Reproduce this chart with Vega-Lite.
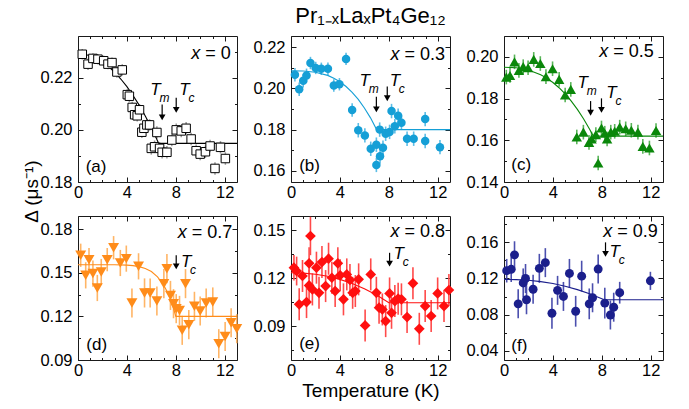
{
  "$schema": "https://vega.github.io/schema/vega-lite/v6.json",
  "background": "white",
  "padding": {"left": 21, "top": 4, "right": 5, "bottom": 5},
  "columns": 3,
  "spacing": {"row": 34, "column": 54},
  "bounds": "flush",
  "datasets": {
    "pts": [
      {"p":"a","t":0.35,"d":0.2290,"e":0.0020},{"p":"a","t":0.82,"d":0.2252,"e":0.0022},{"p":"a","t":1.22,"d":0.2274,"e":0.0020},{"p":"a","t":1.63,"d":0.2271,"e":0.0020},{"p":"a","t":2.10,"d":0.2265,"e":0.0020},{"p":"a","t":2.45,"d":0.2252,"e":0.0020},{"p":"a","t":2.78,"d":0.2258,"e":0.0020},{"p":"a","t":3.18,"d":0.2222,"e":0.0022},{"p":"a","t":3.62,"d":0.2230,"e":0.0022},{"p":"a","t":4.03,"d":0.2135,"e":0.0022},{"p":"a","t":4.20,"d":0.2129,"e":0.0022},{"p":"a","t":4.43,"d":0.2086,"e":0.0022},{"p":"a","t":4.63,"d":0.2058,"e":0.0022},{"p":"a","t":4.84,"d":0.2054,"e":0.0022},{"p":"a","t":5.03,"d":0.2077,"e":0.0022},{"p":"a","t":5.22,"d":0.1991,"e":0.0022},{"p":"a","t":5.39,"d":0.2006,"e":0.0022},{"p":"a","t":5.63,"d":0.2019,"e":0.0022},{"p":"a","t":5.85,"d":0.2019,"e":0.0022},{"p":"a","t":5.99,"d":0.1929,"e":0.0024},{"p":"a","t":6.26,"d":0.1935,"e":0.0024},{"p":"a","t":6.45,"d":0.1990,"e":0.0024},{"p":"a","t":6.67,"d":0.1929,"e":0.0024},{"p":"a","t":6.88,"d":0.1914,"e":0.0024},{"p":"a","t":7.27,"d":0.1914,"e":0.0024},{"p":"a","t":7.67,"d":0.1961,"e":0.0024},{"p":"a","t":8.03,"d":0.2000,"e":0.0024},{"p":"a","t":8.44,"d":0.1996,"e":0.0024},{"p":"a","t":8.84,"d":0.2006,"e":0.0024},{"p":"a","t":9.25,"d":0.1965,"e":0.0024},{"p":"a","t":9.66,"d":0.1920,"e":0.0024},{"p":"a","t":9.99,"d":0.1907,"e":0.0024},{"p":"a","t":10.42,"d":0.1916,"e":0.0024},{"p":"a","t":10.80,"d":0.1938,"e":0.0024},{"p":"a","t":11.20,"d":0.1852,"e":0.0024},{"p":"a","t":11.65,"d":0.1933,"e":0.0024},{"p":"a","t":12.05,"d":0.1890,"e":0.0024},

      {"p":"b","t":0.32,"d":0.2066,"e":0.0033},{"p":"b","t":0.67,"d":0.1996,"e":0.0033},{"p":"b","t":1.00,"d":0.2037,"e":0.0033},{"p":"b","t":1.27,"d":0.2063,"e":0.0033},{"p":"b","t":1.59,"d":0.2123,"e":0.0030},{"p":"b","t":2.02,"d":0.2099,"e":0.0030},{"p":"b","t":2.48,"d":0.2095,"e":0.0030},{"p":"b","t":3.02,"d":0.2095,"e":0.0030},{"p":"b","t":3.50,"d":0.2014,"e":0.0030},{"p":"b","t":3.96,"d":0.2020,"e":0.0030},{"p":"b","t":4.50,"d":0.2143,"e":0.0030},{"p":"b","t":5.00,"d":0.1895,"e":0.0033},{"p":"b","t":5.50,"d":0.1797,"e":0.0035},{"p":"b","t":6.04,"d":0.1772,"e":0.0035},{"p":"b","t":6.52,"d":0.1707,"e":0.0035},{"p":"b","t":6.98,"d":0.1727,"e":0.0035},{"p":"b","t":6.98,"d":0.1629,"e":0.0035},{"p":"b","t":7.25,"d":0.1800,"e":0.0035},{"p":"b","t":7.28,"d":0.1671,"e":0.0035},{"p":"b","t":7.52,"d":0.1712,"e":0.0035},{"p":"b","t":7.74,"d":0.1780,"e":0.0035},{"p":"b","t":8.06,"d":0.1789,"e":0.0035},{"p":"b","t":8.22,"d":0.1890,"e":0.0035},{"p":"b","t":8.49,"d":0.1816,"e":0.0035},{"p":"b","t":8.76,"d":0.1867,"e":0.0035},{"p":"b","t":9.03,"d":0.1833,"e":0.0035},{"p":"b","t":9.49,"d":0.1756,"e":0.0035},{"p":"b","t":10.03,"d":0.1756,"e":0.0035},{"p":"b","t":10.97,"d":0.1851,"e":0.0035},{"p":"b","t":10.97,"d":0.1745,"e":0.0035},{"p":"b","t":12.18,"d":0.1715,"e":0.0035},

      {"p":"c","t":0.19,"d":0.1903,"e":0.0035},{"p":"c","t":0.49,"d":0.1911,"e":0.0035},{"p":"c","t":0.86,"d":0.1976,"e":0.0035},{"p":"c","t":1.22,"d":0.1935,"e":0.0035},{"p":"c","t":1.57,"d":0.1953,"e":0.0035},{"p":"c","t":1.97,"d":0.1948,"e":0.0035},{"p":"c","t":2.43,"d":0.1988,"e":0.0035},{"p":"c","t":2.97,"d":0.1968,"e":0.0035},{"p":"c","t":3.43,"d":0.1905,"e":0.0035},{"p":"c","t":3.97,"d":0.1943,"e":0.0035},{"p":"c","t":4.51,"d":0.1892,"e":0.0035},{"p":"c","t":5.00,"d":0.1817,"e":0.0035},{"p":"c","t":5.46,"d":0.1844,"e":0.0035},{"p":"c","t":5.95,"d":0.1616,"e":0.0035},{"p":"c","t":6.49,"d":0.1639,"e":0.0035},{"p":"c","t":6.95,"d":0.1590,"e":0.0035},{"p":"c","t":7.16,"d":0.1606,"e":0.0035},{"p":"c","t":7.51,"d":0.1627,"e":0.0035},{"p":"c","t":7.70,"d":0.1491,"e":0.0035},{"p":"c","t":7.97,"d":0.1659,"e":0.0035},{"p":"c","t":8.24,"d":0.1634,"e":0.0035},{"p":"c","t":8.43,"d":0.1606,"e":0.0035},{"p":"c","t":8.73,"d":0.1639,"e":0.0035},{"p":"c","t":9.05,"d":0.1643,"e":0.0035},{"p":"c","t":9.46,"d":0.1663,"e":0.0035},{"p":"c","t":9.95,"d":0.1655,"e":0.0035},{"p":"c","t":10.41,"d":0.1648,"e":0.0035},{"p":"c","t":10.95,"d":0.1639,"e":0.0035},{"p":"c","t":11.35,"d":0.1571,"e":0.0035},{"p":"c","t":11.89,"d":0.1563,"e":0.0035},{"p":"c","t":12.43,"d":0.1647,"e":0.0035},

      {"p":"d","t":0.22,"d":0.1620,"e":0.008},{"p":"d","t":0.63,"d":0.1482,"e":0.009},{"p":"d","t":0.90,"d":0.1590,"e":0.008},{"p":"d","t":1.22,"d":0.1494,"e":0.009},{"p":"d","t":1.58,"d":0.1395,"e":0.009},{"p":"d","t":1.90,"d":0.1505,"e":0.009},{"p":"d","t":2.39,"d":0.1590,"e":0.008},{"p":"d","t":2.91,"d":0.1672,"e":0.008},{"p":"d","t":3.46,"d":0.1567,"e":0.009},{"p":"d","t":3.95,"d":0.1597,"e":0.009},{"p":"d","t":4.41,"d":0.1292,"e":0.010},{"p":"d","t":4.95,"d":0.1544,"e":0.009},{"p":"d","t":5.44,"d":0.1361,"e":0.010},{"p":"d","t":5.90,"d":0.1361,"e":0.010},{"p":"d","t":6.45,"d":0.1306,"e":0.010},{"p":"d","t":7.02,"d":0.1425,"e":0.010},{"p":"d","t":7.27,"d":0.1528,"e":0.010},{"p":"d","t":7.56,"d":0.1344,"e":0.010},{"p":"d","t":7.81,"d":0.1287,"e":0.010},{"p":"d","t":8.03,"d":0.1253,"e":0.010},{"p":"d","t":8.30,"d":0.1241,"e":0.010},{"p":"d","t":8.52,"d":0.1104,"e":0.010},{"p":"d","t":8.79,"d":0.1425,"e":0.010},{"p":"d","t":9.06,"d":0.1143,"e":0.010},{"p":"d","t":9.52,"d":0.1269,"e":0.010},{"p":"d","t":9.99,"d":0.1237,"e":0.010},{"p":"d","t":10.48,"d":0.1292,"e":0.010},{"p":"d","t":11.02,"d":0.1299,"e":0.010},{"p":"d","t":11.51,"d":0.1012,"e":0.010},{"p":"d","t":12.03,"d":0.1062,"e":0.010},{"p":"d","t":12.52,"d":0.1156,"e":0.010},{"p":"d","t":12.98,"d":0.1115,"e":0.010},

      {"p":"e","t":0.24,"d":0.1267,"e":0.008},{"p":"e","t":0.46,"d":0.1246,"e":0.009},{"p":"e","t":0.67,"d":0.1038,"e":0.010},{"p":"e","t":0.94,"d":0.1215,"e":0.010},{"p":"e","t":1.27,"d":0.1052,"e":0.010},{"p":"e","t":1.48,"d":0.1294,"e":0.010},{"p":"e","t":1.59,"d":0.1465,"e":0.012},{"p":"e","t":1.48,"d":0.1156,"e":0.010},{"p":"e","t":1.75,"d":0.1131,"e":0.010},{"p":"e","t":2.08,"d":0.1267,"e":0.010},{"p":"e","t":2.29,"d":0.1110,"e":0.010},{"p":"e","t":2.53,"d":0.1302,"e":0.010},{"p":"e","t":2.83,"d":0.1152,"e":0.010},{"p":"e","t":3.07,"d":0.1323,"e":0.010},{"p":"e","t":3.34,"d":0.1204,"e":0.010},{"p":"e","t":3.61,"d":0.1121,"e":0.010},{"p":"e","t":3.83,"d":0.1294,"e":0.010},{"p":"e","t":4.02,"d":0.1219,"e":0.010},{"p":"e","t":4.29,"d":0.1069,"e":0.010},{"p":"e","t":4.56,"d":0.1225,"e":0.010},{"p":"e","t":4.82,"d":0.1190,"e":0.010},{"p":"e","t":5.04,"d":0.1110,"e":0.010},{"p":"e","t":5.26,"d":0.1121,"e":0.010},{"p":"e","t":5.53,"d":0.1194,"e":0.010},{"p":"e","t":6.06,"d":0.0906,"e":0.010},{"p":"e","t":6.52,"d":0.1225,"e":0.010},{"p":"e","t":6.98,"d":0.1110,"e":0.010},{"p":"e","t":7.20,"d":0.1017,"e":0.010},{"p":"e","t":7.47,"d":0.1006,"e":0.010},{"p":"e","t":7.74,"d":0.0933,"e":0.010},{"p":"e","t":8.06,"d":0.1106,"e":0.010},{"p":"e","t":8.22,"d":0.0985,"e":0.010},{"p":"e","t":8.49,"d":0.1058,"e":0.010},{"p":"e","t":8.76,"d":0.1073,"e":0.010},{"p":"e","t":9.03,"d":0.1069,"e":0.010},{"p":"e","t":9.49,"d":0.0958,"e":0.010},{"p":"e","t":9.97,"d":0.1169,"e":0.010},{"p":"e","t":10.49,"d":0.0885,"e":0.010},{"p":"e","t":10.97,"d":0.1027,"e":0.010},{"p":"e","t":11.46,"d":0.0965,"e":0.010},{"p":"e","t":11.99,"d":0.1106,"e":0.010},{"p":"e","t":12.51,"d":0.1027,"e":0.010},{"p":"e","t":12.91,"d":0.1127,"e":0.010},

      {"p":"f","t":0.22,"d":0.1286,"e":0.013},{"p":"f","t":0.59,"d":0.1301,"e":0.014},{"p":"f","t":0.86,"d":0.1461,"e":0.015},{"p":"f","t":1.16,"d":0.0920,"e":0.016},{"p":"f","t":1.57,"d":0.1151,"e":0.016},{"p":"f","t":1.76,"d":0.1200,"e":0.016},{"p":"f","t":1.84,"d":0.0965,"e":0.016},{"p":"f","t":2.38,"d":0.1081,"e":0.016},{"p":"f","t":2.89,"d":0.1312,"e":0.016},{"p":"f","t":3.38,"d":0.1375,"e":0.016},{"p":"f","t":3.92,"d":0.0816,"e":0.017},{"p":"f","t":4.38,"d":0.1069,"e":0.016},{"p":"f","t":4.86,"d":0.1002,"e":0.016},{"p":"f","t":5.35,"d":0.1256,"e":0.016},{"p":"f","t":5.86,"d":0.0838,"e":0.017},{"p":"f","t":6.35,"d":0.1226,"e":0.017},{"p":"f","t":6.97,"d":0.0920,"e":0.017},{"p":"f","t":7.24,"d":0.0987,"e":0.016},{"p":"f","t":7.70,"d":0.1304,"e":0.016},{"p":"f","t":8.24,"d":0.0928,"e":0.017},{"p":"f","t":8.70,"d":0.0797,"e":0.016},{"p":"f","t":8.97,"d":0.0883,"e":0.016},{"p":"f","t":9.46,"d":0.1043,"e":0.012},{"p":"f","t":11.97,"d":0.1174,"e":0.010}
    ],
    "fit": [
      {"p":"a","t":0,"d":0.2292},{"p":"a","t":0.5,"d":0.2290},{"p":"a","t":1,"d":0.2284},{"p":"a","t":1.5,"d":0.2274},{"p":"a","t":2,"d":0.2260},{"p":"a","t":2.5,"d":0.2243},{"p":"a","t":3,"d":0.2221},{"p":"a","t":3.5,"d":0.2195},{"p":"a","t":4,"d":0.2166},{"p":"a","t":4.5,"d":0.2132},{"p":"a","t":5,"d":0.2095},{"p":"a","t":5.5,"d":0.2053},{"p":"a","t":6,"d":0.2008},{"p":"a","t":6.6,"d":0.1948},{"p":"a","t":13,"d":0.1948},
      {"p":"b","t":0,"d":0.2085},{"p":"b","t":1,"d":0.2084},{"p":"b","t":2,"d":0.2078},{"p":"b","t":3,"d":0.2063},{"p":"b","t":3.5,"d":0.2049},{"p":"b","t":4,"d":0.2032},{"p":"b","t":4.5,"d":0.2009},{"p":"b","t":5,"d":0.1981},{"p":"b","t":5.5,"d":0.1947},{"p":"b","t":6,"d":0.1905},{"p":"b","t":6.5,"d":0.1857},{"p":"b","t":7,"d":0.1800},{"p":"b","t":13,"d":0.1800},
      {"p":"c","t":0,"d":0.1950},{"p":"c","t":1,"d":0.1948},{"p":"c","t":2,"d":0.1937},{"p":"c","t":3,"d":0.1914},{"p":"c","t":3.5,"d":0.1898},{"p":"c","t":4,"d":0.1877},{"p":"c","t":4.5,"d":0.1852},{"p":"c","t":5,"d":0.1822},{"p":"c","t":5.5,"d":0.1788},{"p":"c","t":6,"d":0.1748},{"p":"c","t":6.5,"d":0.1703},{"p":"c","t":7,"d":0.1653},{"p":"c","t":7.3,"d":0.1620},{"p":"c","t":13,"d":0.1620},
      {"p":"d","t":0,"d":0.1555},{"p":"d","t":3,"d":0.1555},{"p":"d","t":4,"d":0.1552},{"p":"d","t":4.5,"d":0.1549},{"p":"d","t":5,"d":0.1542},{"p":"d","t":5.5,"d":0.1529},{"p":"d","t":6,"d":0.1508},{"p":"d","t":6.5,"d":0.1472},{"p":"d","t":7,"d":0.1416},{"p":"d","t":7.25,"d":0.1377},{"p":"d","t":7.5,"d":0.1329},{"p":"d","t":7.75,"d":0.1271},{"p":"d","t":8,"d":0.1200},{"p":"d","t":13,"d":0.1200},
      {"p":"e","t":0,"d":0.1235},{"p":"e","t":1,"d":0.1233},{"p":"e","t":2,"d":0.1226},{"p":"e","t":3,"d":0.1213},{"p":"e","t":4,"d":0.1194},{"p":"e","t":5,"d":0.1168},{"p":"e","t":6,"d":0.1136},{"p":"e","t":7,"d":0.1096},{"p":"e","t":8,"d":0.1048},{"p":"e","t":13,"d":0.1048},
      {"p":"f","t":0,"d":0.1190},{"p":"f","t":1,"d":0.1188},{"p":"f","t":2,"d":0.1180},{"p":"f","t":3,"d":0.1165},{"p":"f","t":4,"d":0.1144},{"p":"f","t":5,"d":0.1114},{"p":"f","t":6,"d":0.1077},{"p":"f","t":7,"d":0.1031},{"p":"f","t":8,"d":0.0976},{"p":"f","t":8.2,"d":0.0965},{"p":"f","t":13,"d":0.0965}
    ],
    "arrows": [
      {"p":"a","t":6.88,"top":0.2097,"head":0.2048},{"p":"a","t":8.03,"top":0.2123,"head":0.2077},
      {"p":"b","t":6.98,"top":0.1960,"head":0.1898},{"p":"b","t":7.87,"top":0.2009,"head":0.1952},
      {"p":"c","t":7.08,"top":0.1788,"head":0.1732},{"p":"c","t":7.97,"top":0.1801,"head":0.1746},
      {"p":"d","t":8.03,"top":0.1620,"head":0.1544},
      {"p":"e","t":8.06,"top":0.1360,"head":0.1292},
      {"p":"f","t":8.30,"top":0.1599,"head":0.1472}
    ],
    "tees": [
      {"p":"a","t":6.34,"y":0.2151,"sub":"m"},{"p":"a","t":8.71,"y":0.2151,"sub":"c"},
      {"p":"b","t":6.02,"y":0.2037,"sub":"m"},{"p":"b","t":8.49,"y":0.2037,"sub":"c"},
      {"p":"c","t":6.43,"y":0.1873,"sub":"m"},{"p":"c","t":8.78,"y":0.1828,"sub":"c"},
      {"p":"d","t":8.84,"y":0.1572,"sub":"c"},
      {"p":"e","t":8.81,"y":0.1354,"sub":"c"},
      {"p":"f","t":9.05,"y":0.1487,"sub":"c"}
    ],
    "xlab": [
      {"p":"a","t":9.25,"y":0.2290,"val":"= 0"},
      {"p":"b","t":8.14,"y":0.2164,"val":"= 0.3"},
      {"p":"c","t":7.78,"y":0.2021,"val":"= 0.5"},
      {"p":"d","t":8.16,"y":0.1773,"val":"= 0.7"},
      {"p":"e","t":8.14,"y":0.1490,"val":"= 0.8"},
      {"p":"f","t":8.11,"y":0.1711,"val":"= 0.9"}
    ],
    "tags": [
      {"p":"a","t":0.63,"y":0.1858,"txt":"(a)"},
      {"p":"b","t":0.67,"y":0.1625,"txt":"(b)"},
      {"p":"c","t":0.60,"y":0.1480,"txt":"(c)"},
      {"p":"d","t":0.68,"y":0.1000,"txt":"(d)"},
      {"p":"e","t":0.67,"y":0.0788,"txt":"(e)"},
      {"p":"f","t":0.60,"y":0.0454,"txt":"(f)"}
    ]
  },
  "concat": [
    {
      "width": 159, "height": 146,
      "resolve": {"axis": {"x": "independent", "y": "independent"}},
      "layer": [
        {"data": {"name": "pts"}, "transform": [{"filter": "datum.p == 'a'"}],
         "mark": {"type": "errorbar", "color": "#9a9a9a", "thickness": 1.5},
         "encoding": {
           "x": {"field": "t", "type": "quantitative", "scale": {"domain": [0, 13], "nice": false, "zero": false}, "axis": {"orient": "bottom", "values": [0, 4, 8, 12], "title": null}},
           "y": {"field": "d", "type": "quantitative", "scale": {"domain": [0.18, 0.236], "nice": false, "zero": false}, "axis": {"orient": "left", "values": [0.18, 0.2, 0.22], "format": ".2f", "title": "Δ (μs⁻¹)", "titleX": -47, "titleY": 155, "titleAngle": -90, "titleAlign": "center", "titleBaseline": "middle"}},
           "yError": {"field": "e"}}},
        {"data": {"name": "fit"}, "transform": [{"filter": "datum.p == 'a'"}],
         "mark": {"type": "line", "color": "#000", "strokeWidth": 1.1},
         "encoding": {
           "x": {"field": "t", "type": "quantitative", "axis": {"orient": "bottom", "values": [1, 2, 3, 5, 6, 7, 9, 10, 11], "labels": false, "tickSize": -2.5, "title": null}},
           "y": {"field": "d", "type": "quantitative", "axis": {"orient": "left", "values": [0.19, 0.21, 0.23], "labels": false, "tickSize": -2.5, "title": null}}}},
        {"data": {"name": "pts"}, "transform": [{"filter": "datum.p == 'a'"}],
         "mark": {"type": "point", "shape": "square", "size": 72, "filled": true, "fill": "#fff", "stroke": "#000", "strokeWidth": 1, "opacity": 1},
         "encoding": {
           "x": {"field": "t", "type": "quantitative", "axis": {"orient": "top", "values": [0, 4, 8, 12], "labels": false, "title": null}},
           "y": {"field": "d", "type": "quantitative", "axis": {"orient": "right", "values": [0.18, 0.2, 0.22], "labels": false, "title": null}}}},
        {"data": {"name": "arrows"}, "transform": [{"filter": "datum.p == 'a'"}],
         "mark": {"type": "rule", "color": "#000", "strokeWidth": 1.2},
         "encoding": {
           "x": {"field": "t", "type": "quantitative", "axis": {"orient": "top", "values": [1, 2, 3, 5, 6, 7, 9, 10, 11], "labels": false, "tickSize": -2.5, "title": null}},
           "y": {"field": "top", "type": "quantitative", "axis": {"orient": "right", "values": [0.19, 0.21, 0.23], "labels": false, "tickSize": -2.5, "title": null}},
           "y2": {"field": "head"}}},
        {"data": {"name": "arrows"}, "transform": [{"filter": "datum.p == 'a'"}],
         "mark": {"type": "point", "shape": "triangle-down", "size": 45, "filled": true, "color": "#000", "opacity": 1},
         "encoding": {"x": {"field": "t", "type": "quantitative", "axis": null}, "y": {"field": "head", "type": "quantitative", "axis": null}}},
        {"data": {"name": "tees"}, "transform": [{"filter": "datum.p == 'a'"}],
         "mark": {"type": "text", "text": "T", "fontSize": 17, "fontStyle": "italic", "align": "center", "baseline": "middle"},
         "encoding": {"x": {"field": "t", "type": "quantitative", "axis": null}, "y": {"field": "y", "type": "quantitative", "axis": null}}},
        {"data": {"name": "tees"}, "transform": [{"filter": "datum.p == 'a'"}],
         "mark": {"type": "text", "fontSize": 12, "fontStyle": "italic", "align": "left", "baseline": "middle", "dx": 4, "dy": 8},
         "encoding": {"x": {"field": "t", "type": "quantitative", "axis": null}, "y": {"field": "y", "type": "quantitative", "axis": null}, "text": {"field": "sub", "type": "nominal"}}},
        {"data": {"name": "xlab"}, "transform": [{"filter": "datum.p == 'a'"}],
         "mark": {"type": "text", "text": "x", "fontSize": 18, "fontStyle": "italic", "align": "left", "baseline": "middle"},
         "encoding": {"x": {"field": "t", "type": "quantitative", "axis": null}, "y": {"field": "y", "type": "quantitative", "axis": null}}},
        {"data": {"name": "xlab"}, "transform": [{"filter": "datum.p == 'a'"}],
         "mark": {"type": "text", "fontSize": 18, "align": "left", "baseline": "middle", "dx": 14},
         "encoding": {"x": {"field": "t", "type": "quantitative", "axis": null}, "y": {"field": "y", "type": "quantitative", "axis": null}, "text": {"field": "val", "type": "nominal"}}},
        {"data": {"name": "tags"}, "transform": [{"filter": "datum.p == 'a'"}],
         "mark": {"type": "text", "fontSize": 17, "align": "left", "baseline": "middle"},
         "encoding": {"x": {"field": "t", "type": "quantitative", "axis": null}, "y": {"field": "y", "type": "quantitative", "axis": null}, "text": {"field": "txt", "type": "nominal"}}}
      ]
    },
    {
      "width": 159, "height": 146,
      "title": {"text": "Pr₁₋ₓLaₓPt₄Ge₁₂", "fontSize": 22, "frame": "group", "anchor": "middle", "offset": 8},
      "resolve": {"axis": {"x": "independent", "y": "independent"}},
      "layer": [
        {"data": {"name": "pts"}, "transform": [{"filter": "datum.p == 'b'"}],
         "mark": {"type": "errorbar", "color": "#5cbde6", "thickness": 1.6},
         "encoding": {
           "x": {"field": "t", "type": "quantitative", "scale": {"domain": [0, 13], "nice": false, "zero": false}, "axis": {"orient": "bottom", "values": [0, 4, 8, 12], "title": null}},
           "y": {"field": "d", "type": "quantitative", "scale": {"domain": [0.1546, 0.2254], "nice": false, "zero": false}, "axis": {"orient": "left", "values": [0.16, 0.18, 0.2, 0.22], "format": ".2f", "title": null}},
           "yError": {"field": "e"}}},
        {"data": {"name": "fit"}, "transform": [{"filter": "datum.p == 'b'"}],
         "mark": {"type": "line", "color": "#159fd6", "strokeWidth": 1.1},
         "encoding": {
           "x": {"field": "t", "type": "quantitative", "axis": {"orient": "bottom", "values": [1, 2, 3, 5, 6, 7, 9, 10, 11], "labels": false, "tickSize": -2.5, "title": null}},
           "y": {"field": "d", "type": "quantitative", "axis": {"orient": "left", "values": [0.17, 0.19, 0.21], "labels": false, "tickSize": -2.5, "title": null}}}},
        {"data": {"name": "pts"}, "transform": [{"filter": "datum.p == 'b'"}],
         "mark": {"type": "point", "shape": "circle", "size": 72, "filled": true, "color": "#159fd6", "opacity": 1},
         "encoding": {
           "x": {"field": "t", "type": "quantitative", "axis": {"orient": "top", "values": [0, 4, 8, 12], "labels": false, "title": null}},
           "y": {"field": "d", "type": "quantitative", "axis": {"orient": "right", "values": [0.16, 0.18, 0.2, 0.22], "labels": false, "title": null}}}},
        {"data": {"name": "arrows"}, "transform": [{"filter": "datum.p == 'b'"}],
         "mark": {"type": "rule", "color": "#000", "strokeWidth": 1.2},
         "encoding": {
           "x": {"field": "t", "type": "quantitative", "axis": {"orient": "top", "values": [1, 2, 3, 5, 6, 7, 9, 10, 11], "labels": false, "tickSize": -2.5, "title": null}},
           "y": {"field": "top", "type": "quantitative", "axis": {"orient": "right", "values": [0.17, 0.19, 0.21], "labels": false, "tickSize": -2.5, "title": null}},
           "y2": {"field": "head"}}},
        {"data": {"name": "arrows"}, "transform": [{"filter": "datum.p == 'b'"}],
         "mark": {"type": "point", "shape": "triangle-down", "size": 45, "filled": true, "color": "#000", "opacity": 1},
         "encoding": {"x": {"field": "t", "type": "quantitative", "axis": null}, "y": {"field": "head", "type": "quantitative", "axis": null}}},
        {"data": {"name": "tees"}, "transform": [{"filter": "datum.p == 'b'"}],
         "mark": {"type": "text", "text": "T", "fontSize": 17, "fontStyle": "italic", "align": "center", "baseline": "middle"},
         "encoding": {"x": {"field": "t", "type": "quantitative", "axis": null}, "y": {"field": "y", "type": "quantitative", "axis": null}}},
        {"data": {"name": "tees"}, "transform": [{"filter": "datum.p == 'b'"}],
         "mark": {"type": "text", "fontSize": 12, "fontStyle": "italic", "align": "left", "baseline": "middle", "dx": 4, "dy": 8},
         "encoding": {"x": {"field": "t", "type": "quantitative", "axis": null}, "y": {"field": "y", "type": "quantitative", "axis": null}, "text": {"field": "sub", "type": "nominal"}}},
        {"data": {"name": "xlab"}, "transform": [{"filter": "datum.p == 'b'"}],
         "mark": {"type": "text", "text": "x", "fontSize": 18, "fontStyle": "italic", "align": "left", "baseline": "middle"},
         "encoding": {"x": {"field": "t", "type": "quantitative", "axis": null}, "y": {"field": "y", "type": "quantitative", "axis": null}}},
        {"data": {"name": "xlab"}, "transform": [{"filter": "datum.p == 'b'"}],
         "mark": {"type": "text", "fontSize": 18, "align": "left", "baseline": "middle", "dx": 14},
         "encoding": {"x": {"field": "t", "type": "quantitative", "axis": null}, "y": {"field": "y", "type": "quantitative", "axis": null}, "text": {"field": "val", "type": "nominal"}}},
        {"data": {"name": "tags"}, "transform": [{"filter": "datum.p == 'b'"}],
         "mark": {"type": "text", "fontSize": 17, "align": "left", "baseline": "middle"},
         "encoding": {"x": {"field": "t", "type": "quantitative", "axis": null}, "y": {"field": "y", "type": "quantitative", "axis": null}, "text": {"field": "txt", "type": "nominal"}}}
      ]
    },
    {
      "width": 159, "height": 146,
      "resolve": {"axis": {"x": "independent", "y": "independent"}},
      "layer": [
        {"data": {"name": "pts"}, "transform": [{"filter": "datum.p == 'c'"}],
         "mark": {"type": "errorbar", "color": "#5ab55a", "thickness": 1.6},
         "encoding": {
           "x": {"field": "t", "type": "quantitative", "scale": {"domain": [0, 13], "nice": false, "zero": false}, "axis": {"orient": "bottom", "values": [0, 4, 8, 12], "title": null}},
           "y": {"field": "d", "type": "quantitative", "scale": {"domain": [0.14, 0.21], "nice": false, "zero": false}, "axis": {"orient": "left", "values": [0.14, 0.16, 0.18, 0.2], "format": ".2f", "title": null}},
           "yError": {"field": "e"}}},
        {"data": {"name": "fit"}, "transform": [{"filter": "datum.p == 'c'"}],
         "mark": {"type": "line", "color": "#0a870a", "strokeWidth": 1.1},
         "encoding": {
           "x": {"field": "t", "type": "quantitative", "axis": {"orient": "bottom", "values": [1, 2, 3, 5, 6, 7, 9, 10, 11], "labels": false, "tickSize": -2.5, "title": null}},
           "y": {"field": "d", "type": "quantitative", "axis": {"orient": "left", "values": [0.15, 0.17, 0.19], "labels": false, "tickSize": -2.5, "title": null}}}},
        {"data": {"name": "pts"}, "transform": [{"filter": "datum.p == 'c'"}],
         "mark": {"type": "point", "shape": "triangle-up", "size": 110, "filled": true, "color": "#0a870a", "opacity": 1},
         "encoding": {
           "x": {"field": "t", "type": "quantitative", "axis": {"orient": "top", "values": [0, 4, 8, 12], "labels": false, "title": null}},
           "y": {"field": "d", "type": "quantitative", "axis": {"orient": "right", "values": [0.14, 0.16, 0.18, 0.2], "labels": false, "title": null}}}},
        {"data": {"name": "arrows"}, "transform": [{"filter": "datum.p == 'c'"}],
         "mark": {"type": "rule", "color": "#000", "strokeWidth": 1.2},
         "encoding": {
           "x": {"field": "t", "type": "quantitative", "axis": {"orient": "top", "values": [1, 2, 3, 5, 6, 7, 9, 10, 11], "labels": false, "tickSize": -2.5, "title": null}},
           "y": {"field": "top", "type": "quantitative", "axis": {"orient": "right", "values": [0.15, 0.17, 0.19], "labels": false, "tickSize": -2.5, "title": null}},
           "y2": {"field": "head"}}},
        {"data": {"name": "arrows"}, "transform": [{"filter": "datum.p == 'c'"}],
         "mark": {"type": "point", "shape": "triangle-down", "size": 45, "filled": true, "color": "#000", "opacity": 1},
         "encoding": {"x": {"field": "t", "type": "quantitative", "axis": null}, "y": {"field": "head", "type": "quantitative", "axis": null}}},
        {"data": {"name": "tees"}, "transform": [{"filter": "datum.p == 'c'"}],
         "mark": {"type": "text", "text": "T", "fontSize": 17, "fontStyle": "italic", "align": "center", "baseline": "middle"},
         "encoding": {"x": {"field": "t", "type": "quantitative", "axis": null}, "y": {"field": "y", "type": "quantitative", "axis": null}}},
        {"data": {"name": "tees"}, "transform": [{"filter": "datum.p == 'c'"}],
         "mark": {"type": "text", "fontSize": 12, "fontStyle": "italic", "align": "left", "baseline": "middle", "dx": 4, "dy": 8},
         "encoding": {"x": {"field": "t", "type": "quantitative", "axis": null}, "y": {"field": "y", "type": "quantitative", "axis": null}, "text": {"field": "sub", "type": "nominal"}}},
        {"data": {"name": "xlab"}, "transform": [{"filter": "datum.p == 'c'"}],
         "mark": {"type": "text", "text": "x", "fontSize": 18, "fontStyle": "italic", "align": "left", "baseline": "middle"},
         "encoding": {"x": {"field": "t", "type": "quantitative", "axis": null}, "y": {"field": "y", "type": "quantitative", "axis": null}}},
        {"data": {"name": "xlab"}, "transform": [{"filter": "datum.p == 'c'"}],
         "mark": {"type": "text", "fontSize": 18, "align": "left", "baseline": "middle", "dx": 14},
         "encoding": {"x": {"field": "t", "type": "quantitative", "axis": null}, "y": {"field": "y", "type": "quantitative", "axis": null}, "text": {"field": "val", "type": "nominal"}}},
        {"data": {"name": "tags"}, "transform": [{"filter": "datum.p == 'c'"}],
         "mark": {"type": "text", "fontSize": 17, "align": "left", "baseline": "middle"},
         "encoding": {"x": {"field": "t", "type": "quantitative", "axis": null}, "y": {"field": "y", "type": "quantitative", "axis": null}, "text": {"field": "txt", "type": "nominal"}}}
      ]
    },
    {
      "width": 159, "height": 144,
      "resolve": {"axis": {"x": "independent", "y": "independent"}},
      "layer": [
        {"data": {"name": "pts"}, "transform": [{"filter": "datum.p == 'd'"}],
         "mark": {"type": "errorbar", "color": "#ffb566", "thickness": 1.6},
         "encoding": {
           "x": {"field": "t", "type": "quantitative", "scale": {"domain": [0, 13], "nice": false, "zero": false}, "axis": {"orient": "bottom", "values": [0, 4, 8, 12], "title": null}},
           "y": {"field": "d", "type": "quantitative", "scale": {"domain": [0.09, 0.189], "nice": false, "zero": false}, "axis": {"orient": "left", "values": [0.09, 0.12, 0.15, 0.18], "format": ".2f", "title": null}},
           "yError": {"field": "e"}}},
        {"data": {"name": "fit"}, "transform": [{"filter": "datum.p == 'd'"}],
         "mark": {"type": "line", "color": "#ff8c1a", "strokeWidth": 1.1},
         "encoding": {
           "x": {"field": "t", "type": "quantitative", "axis": {"orient": "bottom", "values": [1, 2, 3, 5, 6, 7, 9, 10, 11], "labels": false, "tickSize": -2.5, "title": null}},
           "y": {"field": "d", "type": "quantitative", "axis": {"orient": "left", "values": [0.105, 0.135, 0.165], "labels": false, "tickSize": -2.5, "title": null}}}},
        {"data": {"name": "pts"}, "transform": [{"filter": "datum.p == 'd'"}],
         "mark": {"type": "point", "shape": "triangle-down", "size": 120, "filled": true, "color": "#ff8c1a", "opacity": 1},
         "encoding": {
           "x": {"field": "t", "type": "quantitative", "axis": {"orient": "top", "values": [0, 4, 8, 12], "labels": false, "title": null}},
           "y": {"field": "d", "type": "quantitative", "axis": {"orient": "right", "values": [0.09, 0.12, 0.15, 0.18], "labels": false, "title": null}}}},
        {"data": {"name": "arrows"}, "transform": [{"filter": "datum.p == 'd'"}],
         "mark": {"type": "rule", "color": "#000", "strokeWidth": 1.2},
         "encoding": {
           "x": {"field": "t", "type": "quantitative", "axis": {"orient": "top", "values": [1, 2, 3, 5, 6, 7, 9, 10, 11], "labels": false, "tickSize": -2.5, "title": null}},
           "y": {"field": "top", "type": "quantitative", "axis": {"orient": "right", "values": [0.105, 0.135, 0.165], "labels": false, "tickSize": -2.5, "title": null}},
           "y2": {"field": "head"}}},
        {"data": {"name": "arrows"}, "transform": [{"filter": "datum.p == 'd'"}],
         "mark": {"type": "point", "shape": "triangle-down", "size": 45, "filled": true, "color": "#000", "opacity": 1},
         "encoding": {"x": {"field": "t", "type": "quantitative", "axis": null}, "y": {"field": "head", "type": "quantitative", "axis": null}}},
        {"data": {"name": "tees"}, "transform": [{"filter": "datum.p == 'd'"}],
         "mark": {"type": "text", "text": "T", "fontSize": 17, "fontStyle": "italic", "align": "center", "baseline": "middle"},
         "encoding": {"x": {"field": "t", "type": "quantitative", "axis": null}, "y": {"field": "y", "type": "quantitative", "axis": null}}},
        {"data": {"name": "tees"}, "transform": [{"filter": "datum.p == 'd'"}],
         "mark": {"type": "text", "fontSize": 12, "fontStyle": "italic", "align": "left", "baseline": "middle", "dx": 4, "dy": 8},
         "encoding": {"x": {"field": "t", "type": "quantitative", "axis": null}, "y": {"field": "y", "type": "quantitative", "axis": null}, "text": {"field": "sub", "type": "nominal"}}},
        {"data": {"name": "xlab"}, "transform": [{"filter": "datum.p == 'd'"}],
         "mark": {"type": "text", "text": "x", "fontSize": 18, "fontStyle": "italic", "align": "left", "baseline": "middle"},
         "encoding": {"x": {"field": "t", "type": "quantitative", "axis": null}, "y": {"field": "y", "type": "quantitative", "axis": null}}},
        {"data": {"name": "xlab"}, "transform": [{"filter": "datum.p == 'd'"}],
         "mark": {"type": "text", "fontSize": 18, "align": "left", "baseline": "middle", "dx": 14},
         "encoding": {"x": {"field": "t", "type": "quantitative", "axis": null}, "y": {"field": "y", "type": "quantitative", "axis": null}, "text": {"field": "val", "type": "nominal"}}},
        {"data": {"name": "tags"}, "transform": [{"filter": "datum.p == 'd'"}],
         "mark": {"type": "text", "fontSize": 17, "align": "left", "baseline": "middle"},
         "encoding": {"x": {"field": "t", "type": "quantitative", "axis": null}, "y": {"field": "y", "type": "quantitative", "axis": null}, "text": {"field": "txt", "type": "nominal"}}}
      ]
    },
    {
      "width": 159, "height": 144,
      "resolve": {"axis": {"x": "independent", "y": "independent"}},
      "layer": [
        {"data": {"name": "pts"}, "transform": [{"filter": "datum.p == 'e'"}],
         "mark": {"type": "errorbar", "color": "#ff4a4a", "thickness": 1.6},
         "encoding": {
           "x": {"field": "t", "type": "quantitative", "scale": {"domain": [0, 13], "nice": false, "zero": false}, "axis": {"orient": "bottom", "values": [0, 4, 8, 12], "title": "Temperature (K)", "titlePadding": 3}},
           "y": {"field": "d", "type": "quantitative", "scale": {"domain": [0.069, 0.159], "nice": false, "zero": false}, "axis": {"orient": "left", "values": [0.09, 0.12, 0.15], "format": ".2f", "title": null}},
           "yError": {"field": "e"}}},
        {"data": {"name": "fit"}, "transform": [{"filter": "datum.p == 'e'"}],
         "mark": {"type": "line", "color": "#ff0f0f", "strokeWidth": 1.1},
         "encoding": {
           "x": {"field": "t", "type": "quantitative", "axis": {"orient": "bottom", "values": [1, 2, 3, 5, 6, 7, 9, 10, 11], "labels": false, "tickSize": -2.5, "title": null}},
           "y": {"field": "d", "type": "quantitative", "axis": {"orient": "left", "values": [0.075, 0.105, 0.135], "labels": false, "tickSize": -2.5, "title": null}}}},
        {"data": {"name": "pts"}, "transform": [{"filter": "datum.p == 'e'"}],
         "mark": {"type": "point", "shape": "diamond", "size": 115, "filled": true, "color": "#ff0f0f", "opacity": 1},
         "encoding": {
           "x": {"field": "t", "type": "quantitative", "axis": {"orient": "top", "values": [0, 4, 8, 12], "labels": false, "title": null}},
           "y": {"field": "d", "type": "quantitative", "axis": {"orient": "right", "values": [0.09, 0.12, 0.15], "labels": false, "title": null}}}},
        {"data": {"name": "arrows"}, "transform": [{"filter": "datum.p == 'e'"}],
         "mark": {"type": "rule", "color": "#000", "strokeWidth": 1.2},
         "encoding": {
           "x": {"field": "t", "type": "quantitative", "axis": {"orient": "top", "values": [1, 2, 3, 5, 6, 7, 9, 10, 11], "labels": false, "tickSize": -2.5, "title": null}},
           "y": {"field": "top", "type": "quantitative", "axis": {"orient": "right", "values": [0.075, 0.105, 0.135], "labels": false, "tickSize": -2.5, "title": null}},
           "y2": {"field": "head"}}},
        {"data": {"name": "arrows"}, "transform": [{"filter": "datum.p == 'e'"}],
         "mark": {"type": "point", "shape": "triangle-down", "size": 45, "filled": true, "color": "#000", "opacity": 1},
         "encoding": {"x": {"field": "t", "type": "quantitative", "axis": null}, "y": {"field": "head", "type": "quantitative", "axis": null}}},
        {"data": {"name": "tees"}, "transform": [{"filter": "datum.p == 'e'"}],
         "mark": {"type": "text", "text": "T", "fontSize": 17, "fontStyle": "italic", "align": "center", "baseline": "middle"},
         "encoding": {"x": {"field": "t", "type": "quantitative", "axis": null}, "y": {"field": "y", "type": "quantitative", "axis": null}}},
        {"data": {"name": "tees"}, "transform": [{"filter": "datum.p == 'e'"}],
         "mark": {"type": "text", "fontSize": 12, "fontStyle": "italic", "align": "left", "baseline": "middle", "dx": 4, "dy": 8},
         "encoding": {"x": {"field": "t", "type": "quantitative", "axis": null}, "y": {"field": "y", "type": "quantitative", "axis": null}, "text": {"field": "sub", "type": "nominal"}}},
        {"data": {"name": "xlab"}, "transform": [{"filter": "datum.p == 'e'"}],
         "mark": {"type": "text", "text": "x", "fontSize": 18, "fontStyle": "italic", "align": "left", "baseline": "middle"},
         "encoding": {"x": {"field": "t", "type": "quantitative", "axis": null}, "y": {"field": "y", "type": "quantitative", "axis": null}}},
        {"data": {"name": "xlab"}, "transform": [{"filter": "datum.p == 'e'"}],
         "mark": {"type": "text", "fontSize": 18, "align": "left", "baseline": "middle", "dx": 14},
         "encoding": {"x": {"field": "t", "type": "quantitative", "axis": null}, "y": {"field": "y", "type": "quantitative", "axis": null}, "text": {"field": "val", "type": "nominal"}}},
        {"data": {"name": "tags"}, "transform": [{"filter": "datum.p == 'e'"}],
         "mark": {"type": "text", "fontSize": 17, "align": "left", "baseline": "middle"},
         "encoding": {"x": {"field": "t", "type": "quantitative", "axis": null}, "y": {"field": "y", "type": "quantitative", "axis": null}, "text": {"field": "txt", "type": "nominal"}}}
      ]
    },
    {
      "width": 159, "height": 144,
      "resolve": {"axis": {"x": "independent", "y": "independent"}},
      "layer": [
        {"data": {"name": "pts"}, "transform": [{"filter": "datum.p == 'f'"}],
         "mark": {"type": "errorbar", "color": "#4b4fae", "thickness": 1.6},
         "encoding": {
           "x": {"field": "t", "type": "quantitative", "scale": {"domain": [0, 13], "nice": false, "zero": false}, "axis": {"orient": "bottom", "values": [0, 4, 8, 12], "title": null}},
           "y": {"field": "d", "type": "quantitative", "scale": {"domain": [0.03, 0.189], "nice": false, "zero": false}, "axis": {"orient": "left", "values": [0.04, 0.08, 0.12, 0.16], "format": ".2f", "title": null}},
           "yError": {"field": "e"}}},
        {"data": {"name": "fit"}, "transform": [{"filter": "datum.p == 'f'"}],
         "mark": {"type": "line", "color": "#1b1f8c", "strokeWidth": 1.1},
         "encoding": {
           "x": {"field": "t", "type": "quantitative", "axis": {"orient": "bottom", "values": [1, 2, 3, 5, 6, 7, 9, 10, 11], "labels": false, "tickSize": -2.5, "title": null}},
           "y": {"field": "d", "type": "quantitative", "axis": {"orient": "left", "values": [0.06, 0.1, 0.14, 0.18], "labels": false, "tickSize": -2.5, "title": null}}}},
        {"data": {"name": "pts"}, "transform": [{"filter": "datum.p == 'f'"}],
         "mark": {"type": "point", "shape": "circle", "size": 80, "filled": true, "color": "#1b1f8c", "opacity": 1},
         "encoding": {
           "x": {"field": "t", "type": "quantitative", "axis": {"orient": "top", "values": [0, 4, 8, 12], "labels": false, "title": null}},
           "y": {"field": "d", "type": "quantitative", "axis": {"orient": "right", "values": [0.04, 0.08, 0.12, 0.16], "labels": false, "title": null}}}},
        {"data": {"name": "arrows"}, "transform": [{"filter": "datum.p == 'f'"}],
         "mark": {"type": "rule", "color": "#000", "strokeWidth": 1.2},
         "encoding": {
           "x": {"field": "t", "type": "quantitative", "axis": {"orient": "top", "values": [1, 2, 3, 5, 6, 7, 9, 10, 11], "labels": false, "tickSize": -2.5, "title": null}},
           "y": {"field": "top", "type": "quantitative", "axis": {"orient": "right", "values": [0.06, 0.1, 0.14, 0.18], "labels": false, "tickSize": -2.5, "title": null}},
           "y2": {"field": "head"}}},
        {"data": {"name": "arrows"}, "transform": [{"filter": "datum.p == 'f'"}],
         "mark": {"type": "point", "shape": "triangle-down", "size": 45, "filled": true, "color": "#000", "opacity": 1},
         "encoding": {"x": {"field": "t", "type": "quantitative", "axis": null}, "y": {"field": "head", "type": "quantitative", "axis": null}}},
        {"data": {"name": "tees"}, "transform": [{"filter": "datum.p == 'f'"}],
         "mark": {"type": "text", "text": "T", "fontSize": 17, "fontStyle": "italic", "align": "center", "baseline": "middle"},
         "encoding": {"x": {"field": "t", "type": "quantitative", "axis": null}, "y": {"field": "y", "type": "quantitative", "axis": null}}},
        {"data": {"name": "tees"}, "transform": [{"filter": "datum.p == 'f'"}],
         "mark": {"type": "text", "fontSize": 12, "fontStyle": "italic", "align": "left", "baseline": "middle", "dx": 4, "dy": 8},
         "encoding": {"x": {"field": "t", "type": "quantitative", "axis": null}, "y": {"field": "y", "type": "quantitative", "axis": null}, "text": {"field": "sub", "type": "nominal"}}},
        {"data": {"name": "xlab"}, "transform": [{"filter": "datum.p == 'f'"}],
         "mark": {"type": "text", "text": "x", "fontSize": 18, "fontStyle": "italic", "align": "left", "baseline": "middle"},
         "encoding": {"x": {"field": "t", "type": "quantitative", "axis": null}, "y": {"field": "y", "type": "quantitative", "axis": null}}},
        {"data": {"name": "xlab"}, "transform": [{"filter": "datum.p == 'f'"}],
         "mark": {"type": "text", "fontSize": 18, "align": "left", "baseline": "middle", "dx": 14},
         "encoding": {"x": {"field": "t", "type": "quantitative", "axis": null}, "y": {"field": "y", "type": "quantitative", "axis": null}, "text": {"field": "val", "type": "nominal"}}},
        {"data": {"name": "tags"}, "transform": [{"filter": "datum.p == 'f'"}],
         "mark": {"type": "text", "fontSize": 17, "align": "left", "baseline": "middle"},
         "encoding": {"x": {"field": "t", "type": "quantitative", "axis": null}, "y": {"field": "y", "type": "quantitative", "axis": null}, "text": {"field": "txt", "type": "nominal"}}}
      ]
    }
  ],
  "config": {
    "font": "Liberation Sans",
    "view": {"stroke": "#1a1a1a", "strokeWidth": 1},
    "axis": {"domain": false, "grid": false, "ticks": true, "tickColor": "#1a1a1a", "tickWidth": 1, "tickSize": -5, "labelColor": "#000", "labelFont": "Liberation Sans", "labelFontSize": 16.5, "labelFlush": false, "labelOverlap": false, "titleFont": "Liberation Sans", "titleFontSize": 19, "titleFontWeight": "normal", "titleColor": "#000"},
    "axisX": {"labelPadding": 7},
    "axisY": {"labelPadding": 11},
    "text": {"font": "Liberation Sans", "color": "#000"},
    "title": {"font": "Liberation Sans", "fontWeight": "normal", "color": "#000"}
  }
}
